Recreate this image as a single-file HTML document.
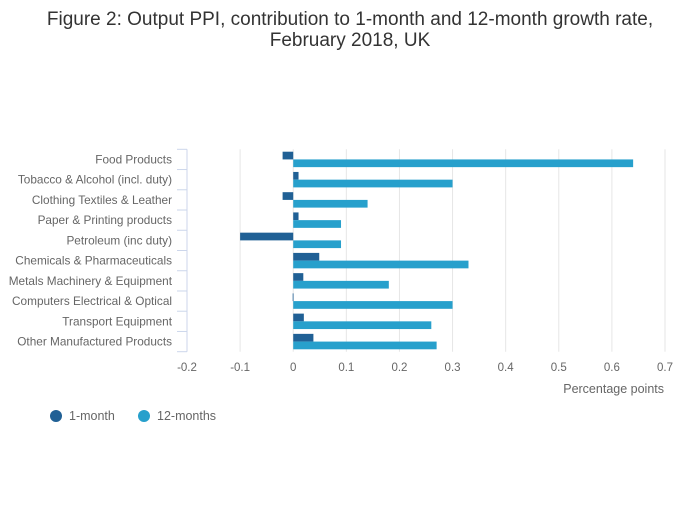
<!DOCTYPE html>
<html><head><meta charset="utf-8"><style>
body{margin:0;background:#fff;font-family:"Liberation Sans",sans-serif;}
svg text{font-family:"Liberation Sans",sans-serif;}
</style></head><body>
<svg width="700" height="502" viewBox="0 0 700 502">
<text x="350" y="25" text-anchor="middle" font-size="19" fill="#333">Figure 2: Output PPI, contribution to 1-month and 12-month growth rate,</text>
<text x="350" y="46" text-anchor="middle" font-size="19" fill="#333">February 2018, UK</text>
<g id="grid"></g><g id="bars"></g><g id="axes"></g>
<text x="664" y="393" text-anchor="end" font-size="12.5" fill="#666">Percentage points</text>
<g><circle cx="56" cy="416" r="6" fill="#206095"/><text x="69" y="420" font-size="12.5" fill="#666">1-month</text></g>
<g><circle cx="144" cy="416" r="6" fill="#27a0cc"/><text x="157" y="420" font-size="12.5" fill="#666">12-months</text></g>
</svg>
<script>
const categories=["Food Products","Tobacco & Alcohol (incl. duty)","Clothing Textiles & Leather","Paper & Printing products","Petroleum (inc duty)","Chemicals & Pharmaceuticals","Metals Machinery & Equipment","Computers Electrical & Optical","Transport Equipment","Other Manufactured Products"];
const oneMonth=[-0.02,0.01,-0.02,0.01,-0.10,0.049,0.019,-0.001,0.02,0.038];
const twelveMonths=[0.64,0.30,0.14,0.09,0.09,0.33,0.18,0.30,0.26,0.27];
const xTicks=[-0.2,-0.1,0,0.1,0.2,0.3,0.4,0.5,0.6,0.7];
const NS="http://www.w3.org/2000/svg";
const x0=187,x1=665,vmin=-0.2,vmax=0.7,yTop=149.3,yBot=351.7;
const xs=v=>x0+(v-vmin)/(vmax-vmin)*(x1-x0);
const band=(yBot-yTop)/categories.length;
function mk(t,a,p){const e=document.createElementNS(NS,t);for(const k in a)e.setAttribute(k,a[k]);p.appendChild(e);return e;}
const grid=document.getElementById('grid'),bars=document.getElementById('bars'),axes=document.getElementById('axes');
xTicks.forEach(v=>{
 if(v!==vmin){const l=mk('line',{x1:xs(v),x2:xs(v),y1:yTop,y2:yBot,stroke:'#e6e6e6','stroke-width':1},grid);
 
 }
 const t=mk('text',{x:xs(v),y:371,'text-anchor':'middle','font-size':11.5,fill:'#666'},axes);
 t.textContent=String(v);
 
 
});
const ax=mk('line',{x1:x0,x2:x0,y1:yTop,y2:yBot,stroke:'#ccd6eb','stroke-width':1},axes);


for(let i=0;i<=categories.length;i++){
 const y=yTop+i*band;
 const tk=mk('line',{x1:x0-10,x2:x0,y1:y,y2:y,stroke:'#ccd6eb','stroke-width':1},axes);
 
 
}
categories.forEach((c,i)=>{
 const yb=yTop+i*band;
 const t=mk('text',{x:172,y:yb+band/2+4,'text-anchor':'end','font-size':11.8,fill:'#666'},axes);
 t.textContent=c;
 
 
 const h=(band-4.8)/2;
 [[oneMonth[i],'#206095',yb+2.4],[twelveMonths[i],'#27a0cc',yb+2.4+h]].forEach(([v,col,y],k)=>{
  const a=xs(Math.min(0,v)),b=xs(Math.max(0,v));
  const r=mk('rect',{x:a,y:y,width:Math.max(b-a,0.8),height:h,fill:col},bars);
  
  
 });
});
</script>
</body></html>
